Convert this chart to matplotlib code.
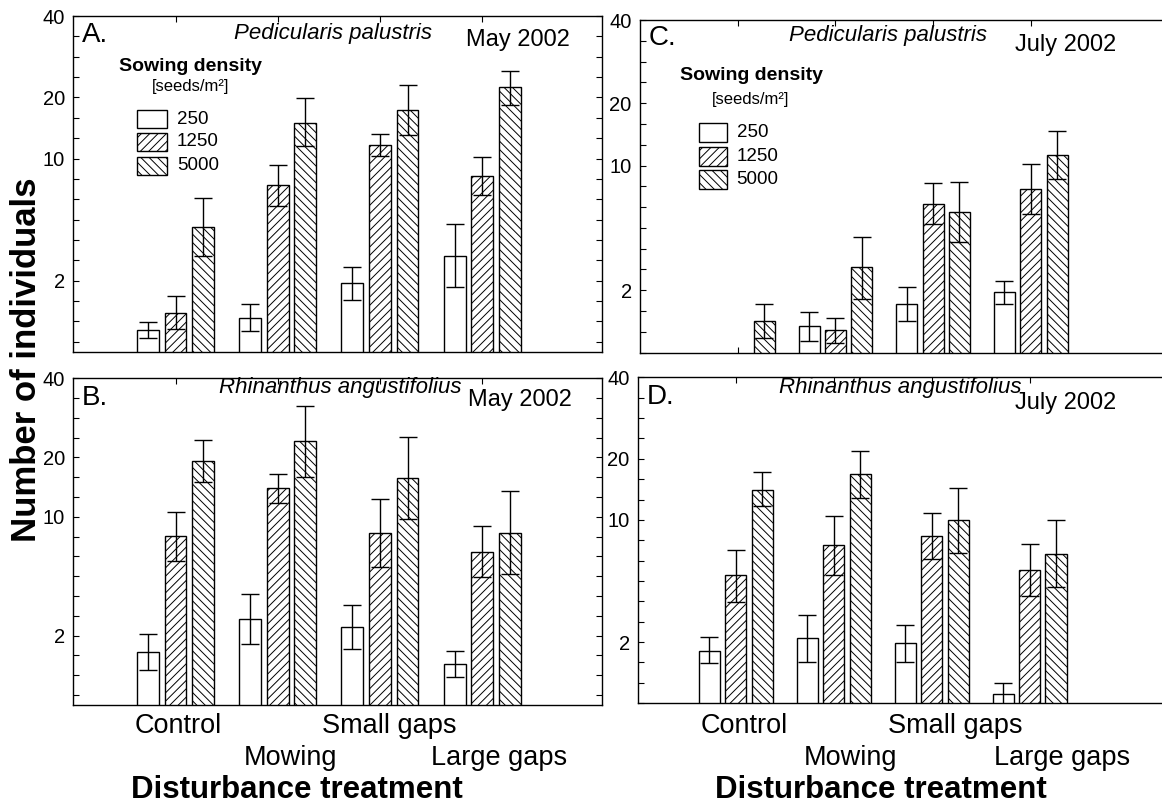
import numpy as np
import matplotlib
matplotlib.use("Agg")
import matplotlib.pyplot as plt
from matplotlib.patches import Rectangle
from matplotlib.ticker import FixedLocator

plt.rcParams['font.family'] = ['Liberation Sans', 'DejaVu Sans']
plt.rcParams['hatch.linewidth'] = 0.7

# ---- data (means and error-bar ends) ----
treatments = ["Control", "Mowing", "Small gaps", "Large gaps"]
densities = ["250", "1250", "5000"]

# A. Pedicularis palustris, May 2002
pedi_may_250 = [0.78, 1.03, 1.92, 2.90]
pedi_may_250_lo = [0.63, 0.76, 1.45, 1.80]
pedi_may_250_hi = [0.93, 1.35, 2.46, 4.49]
pedi_may_1250 = [1.14, 7.31, 11.7, 8.18]
pedi_may_1250_lo = [0.80, 5.67, 10.3, 6.49]
pedi_may_1250_hi = [1.55, 9.23, 13.2, 10.2]
pedi_may_5000 = [4.30, 15.1, 17.4, 21.8]
pedi_may_5000_lo = [2.92, 11.5, 13.1, 18.4]
pedi_may_5000_hi = [6.21, 19.8, 22.3, 25.2]

# B. Rhinanthus angustifolius, May 2002
rhin_may_250 = [1.51, 2.60, 2.29, 1.20]
rhin_may_250_lo = [1.07, 1.75, 1.58, 0.91]
rhin_may_250_hi = [2.04, 3.71, 3.18, 1.55]
rhin_may_1250 = [7.97, 14.1, 8.26, 6.53]
rhin_may_1250_lo = [5.76, 11.8, 5.35, 4.70]
rhin_may_1250_hi = [10.6, 16.6, 12.4, 8.99]
rhin_may_5000 = [19.1, 23.1, 15.8, 8.20]
rhin_may_5000_lo = [15.0, 15.9, 9.75, 4.86]
rhin_may_5000_hi = [23.4, 31.4, 23.9, 13.5]

# C. Pedicularis palustris, July 2002
pedi_jul_250 = [0.45, 1.07, 1.61, 1.93]
pedi_jul_250_lo = [0.40, 0.78, 1.18, 1.59]
pedi_jul_250_hi = [0.50, 1.39, 2.11, 2.30]
pedi_jul_1250 = [0.50, 0.98, 6.40, 7.62]
pedi_jul_1250_lo = [0.40, 0.74, 5.00, 5.67]
pedi_jul_1250_hi = [0.55, 1.24, 8.18, 10.2]
pedi_jul_5000 = [1.18, 2.82, 5.79, 11.3]
pedi_jul_5000_lo = [0.83, 1.75, 3.97, 8.51]
pedi_jul_5000_hi = [1.59, 4.24, 8.24, 14.7]

# D. Rhinanthus angustifolius, July 2002
rhin_jul_250 = [1.73, 2.12, 1.97, 0.74]
rhin_jul_250_lo = [1.40, 1.43, 1.43, 0.55]
rhin_jul_250_hi = [2.17, 3.01, 2.60, 0.94]
rhin_jul_1250 = [5.09, 7.39, 8.30, 5.47]
rhin_jul_1250_lo = [3.61, 5.09, 6.27, 3.88]
rhin_jul_1250_hi = [7.01, 10.5, 10.8, 7.48]
rhin_jul_5000 = [14.1, 16.9, 9.94, 6.66]
rhin_jul_5000_lo = [11.8, 12.9, 6.74, 4.39]
rhin_jul_5000_hi = [17.2, 21.4, 14.4, 9.94]

y_ticks = [2, 10, 20, 40]

# ---- axis scale: log(x+1)-like with the labelled ticks where the original puts them ----
anchor_vals = np.array([0, 2, 10, 20, 40])
anchor_pos = np.array([-18.1, -13, -7, -4, 0])


def fwd(v):
    v = np.clip(np.asarray(v, dtype=float), 0, None)
    return np.interp(np.log10(v + 1), np.log10(anchor_vals + 1), anchor_pos)


def inv(p):
    return 10 ** np.interp(p, anchor_pos, np.log10(anchor_vals + 1)) - 1


W, H = 1162, 807
fig = plt.figure(figsize=(W / 100, H / 100), dpi=100)
fig.patch.set_facecolor("white")


def fx(x):
    return x / W


def fy(y):
    return 1 - y / H


def box(left, top, right, bottom):
    return [fx(left), fy(bottom), (right - left) / W, (bottom - top) / H]


hatches = ["", "////", "\\\\\\\\"]
offsets = [-0.27, 0.0, 0.27]
x = np.arange(1, len(treatments) + 1)


def panel(rect, xmax, ymin, series, right_ticks=True):
    ax = fig.add_axes(rect)
    ax.set_yscale("function", functions=(fwd, inv))
    for k, (mean, lo, hi) in enumerate(series):
        mean = np.array(mean)
        lo = np.array(lo)
        hi = np.array(hi)
        xs = x + offsets[k]
        ax.bar(xs, mean, width=0.215, color="white", edgecolor="black",
               hatch=hatches[k], linewidth=1.0, zorder=2)
        ax.errorbar(xs, mean, yerr=[mean - lo, hi - mean], fmt="none",
                    ecolor="black", elinewidth=1.0, capsize=6.5,
                    capthick=1.0, zorder=3)
    ax.set_xlim(0, xmax)
    ax.set_ylim(ymin, 40)
    ax.set_xticks(x)
    ax.set_yticks(y_ticks)
    ax.set_yticklabels([str(t) for t in y_ticks])
    minor = [inv(-k) for k in range(1, 17) if k not in (4, 7, 13)]
    ax.yaxis.set_minor_locator(FixedLocator(minor))
    ax.tick_params(axis="y", which="both", direction="in", left=True,
                   right=right_ticks, length=4, width=0.8, labelsize=14.5,
                   pad=6)
    ax.tick_params(axis="x", which="major", direction="in", top=True,
                   bottom=True, length=4, width=0.8, labelbottom=False)
    for s in ax.spines.values():
        s.set_linewidth(1.0)
    return ax


panel(box(73.3, 16, 601.7, 352), 5.17, 0.41,
      [(pedi_may_250, pedi_may_250_lo, pedi_may_250_hi),
       (pedi_may_1250, pedi_may_1250_lo, pedi_may_1250_hi),
       (pedi_may_5000, pedi_may_5000_lo, pedi_may_5000_hi)])
panel(box(73.3, 378.3, 601.7, 705), 5.17, 0.41,
      [(rhin_may_250, rhin_may_250_lo, rhin_may_250_hi),
       (rhin_may_1250, rhin_may_1250_lo, rhin_may_1250_hi),
       (rhin_may_5000, rhin_may_5000_lo, rhin_may_5000_hi)])
panel(box(640, 20, 1167.6, 352.7), 5.4, 0.57,
      [(pedi_jul_250, pedi_jul_250_lo, pedi_jul_250_hi),
       (pedi_jul_1250, pedi_jul_1250_lo, pedi_jul_1250_hi),
       (pedi_jul_5000, pedi_jul_5000_lo, pedi_jul_5000_hi)],
      right_ticks=False)
panel(box(638, 377.3, 1167.6, 703.3), 5.41, 0.57,
      [(rhin_jul_250, rhin_jul_250_lo, rhin_jul_250_hi),
       (rhin_jul_1250, rhin_jul_1250_lo, rhin_jul_1250_hi),
       (rhin_jul_5000, rhin_jul_5000_lo, rhin_jul_5000_hi)],
      right_ticks=False)


def txt(x, y, s, **kw):
    kw.setdefault("va", "center")
    fig.text(fx(x), fy(y), s, **kw)


# panel headings
txt(81.7, 35, "A.", fontsize=20, ha="left")
txt(332.5, 33, "Pedicularis palustris", fontsize=16, style="italic", ha="center")
txt(570, 40, "May 2002", fontsize=17, ha="right")
txt(81.7, 398, "B.", fontsize=20, ha="left")
txt(340, 388, "Rhinanthus angustifolius", fontsize=16, style="italic", ha="center")
txt(571.7, 400, "May 2002", fontsize=17, ha="right")
txt(649, 38, "C.", fontsize=20, ha="left")
txt(888, 36, "Pedicularis palustris", fontsize=16, style="italic", ha="center")
txt(1116.7, 45, "July 2002", fontsize=17, ha="right")
txt(646.7, 397, "D.", fontsize=20, ha="left")
txt(900, 388, "Rhinanthus angustifolius", fontsize=16, style="italic", ha="center")
txt(1116.7, 403, "July 2002", fontsize=17, ha="right")


def legend(cx, ty, sy, bx, bw, tops, bh, lx):
    txt(cx, ty, "Sowing density", fontsize=14, fontweight="bold", ha="center")
    txt(cx, sy, "[seeds/m²]", fontsize=12, ha="center")
    for k, lab in enumerate(densities):
        r = Rectangle((fx(bx), fy(tops[k] + bh)), bw / W, bh / H,
                      transform=fig.transFigure, facecolor="white",
                      edgecolor="black", hatch=hatches[k], linewidth=1.0)
        fig.add_artist(r)
        txt(lx, tops[k] + bh / 2, lab, fontsize=13.5, ha="left")


legend(190.5, 66.7, 86.7, 137, 30, [110, 133, 157], 18, 177)
legend(751, 76, 99.3, 698.7, 28.3, [122.7, 146.7, 170], 19, 736.7)

# category labels and axis titles
rows = [726, 758, 726, 758]
left_cx = [178, 290, 389, 499]
right_cx = [744, 851, 955, 1062]
for name, row, lx_, rx_ in zip(treatments, rows, left_cx, right_cx):
    txt(lx_, row, name, fontsize=19.5, ha="center")
    txt(rx_, row, name, fontsize=19.5, ha="center")

txt(297, 790, "Disturbance treatment", fontsize=22.5, fontweight="bold",
    ha="center")
txt(881, 790, "Disturbance treatment", fontsize=22.5, fontweight="bold",
    ha="center")
txt(27, 360, "Number of individuals", fontsize=25, fontweight="bold",
    ha="center", rotation=90)

fig.savefig("out.png", dpi=100, facecolor="white")
